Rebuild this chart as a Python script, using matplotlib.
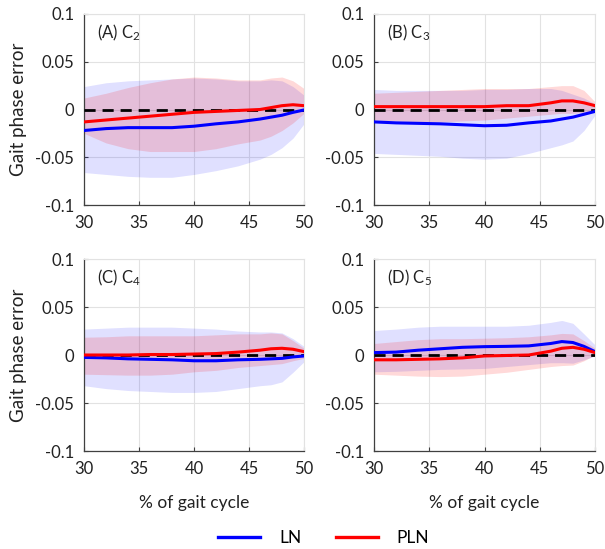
import matplotlib
matplotlib.use("Agg")
import matplotlib.pyplot as plt
from matplotlib.lines import Line2D

plt.rcParams['font.family'] = ['Lato', 'DejaVu Sans']
plt.rcParams['mathtext.default'] = 'regular'

x = [30, 32, 34, 36, 38, 40, 42, 44, 46, 47, 48, 49, 50]

# Panel A (C2)
a_ln_mean = [-0.022, -0.020, -0.019, -0.019, -0.019, -0.0175, -0.015, -0.013, -0.010, -0.008, -0.006, -0.003, -0.0005]
a_ln_up = [0.024, 0.028, 0.030, 0.031, 0.032, 0.033, 0.032, 0.030, 0.030, 0.031, 0.030, 0.024, 0.015]
a_ln_lo = [-0.066, -0.068, -0.070, -0.071, -0.071, -0.068, -0.064, -0.059, -0.052, -0.047, -0.040, -0.030, -0.015]
a_pln_mean = [-0.013, -0.011, -0.009, -0.007, -0.005, -0.003, -0.002, -0.001, 0.000, 0.002, 0.004, 0.005, 0.004]
a_pln_up = [0.012, 0.017, 0.023, 0.028, 0.032, 0.034, 0.033, 0.031, 0.031, 0.033, 0.034, 0.030, 0.022]
a_pln_lo = [-0.025, -0.035, -0.041, -0.044, -0.044, -0.044, -0.041, -0.036, -0.032, -0.028, -0.022, -0.014, -0.004]

# Panel B (C3)
b_ln_mean = [-0.013, -0.014, -0.0145, -0.015, -0.016, -0.017, -0.0165, -0.014, -0.012, -0.010, -0.008, -0.005, -0.002]
b_ln_up = [0.021, 0.020, 0.020, 0.020, 0.020, 0.021, 0.021, 0.022, 0.022, 0.020, 0.016, 0.012, 0.006]
b_ln_lo = [-0.046, -0.047, -0.048, -0.049, -0.051, -0.052, -0.051, -0.046, -0.040, -0.037, -0.033, -0.022, -0.006]
b_pln_mean = [0.003, 0.003, 0.003, 0.003, 0.003, 0.003, 0.004, 0.004, 0.007, 0.009, 0.009, 0.007, 0.004]
b_pln_up = [0.017, 0.018, 0.019, 0.020, 0.021, 0.022, 0.022, 0.022, 0.024, 0.025, 0.025, 0.020, 0.008]
b_pln_lo = [-0.011, -0.012, -0.013, -0.013, -0.012, -0.011, -0.009, -0.007, -0.005, -0.004, -0.004, -0.003, -0.001]

# Panel C (C4)
c_ln_mean = [-0.0025, -0.003, -0.004, -0.0045, -0.005, -0.006, -0.006, -0.005, -0.0045, -0.004, -0.0035, -0.002, -0.001]
c_ln_up = [0.027, 0.028, 0.029, 0.029, 0.029, 0.028, 0.027, 0.025, 0.024, 0.024, 0.023, 0.017, 0.009]
c_ln_lo = [-0.032, -0.035, -0.037, -0.038, -0.039, -0.039, -0.038, -0.035, -0.032, -0.031, -0.028, -0.018, -0.007]
c_pln_mean = [0.000, 0.000, 0.000, 0.0005, 0.0005, 0.001, 0.0015, 0.003, 0.005, 0.0065, 0.007, 0.006, 0.0035]
c_pln_up = [0.0185, 0.019, 0.020, 0.020, 0.020, 0.020, 0.021, 0.022, 0.022, 0.023, 0.022, 0.015, 0.007]
c_pln_lo = [-0.020, -0.0205, -0.021, -0.021, -0.020, -0.0175, -0.016, -0.013, -0.011, -0.010, -0.009, -0.006, -0.0035]

# Panel D (C5)
d_ln_mean = [0.0025, 0.003, 0.005, 0.0065, 0.008, 0.0087, 0.009, 0.0095, 0.012, 0.014, 0.013, 0.009, 0.0035]
d_ln_up = [0.0255, 0.027, 0.029, 0.030, 0.030, 0.030, 0.030, 0.031, 0.034, 0.036, 0.033, 0.022, 0.0105]
d_ln_lo = [-0.0175, -0.017, -0.016, -0.015, -0.0145, -0.014, -0.012, -0.010, -0.008, -0.008, -0.0085, -0.005, -0.001]
d_pln_mean = [-0.005, -0.005, -0.0045, -0.004, -0.003, -0.001, -0.0005, 0.000, 0.004, 0.007, 0.008, 0.006, 0.0025]
d_pln_up = [0.012, 0.014, 0.016, 0.017, 0.017, 0.0175, 0.018, 0.019, 0.021, 0.0225, 0.022, 0.015, 0.007]
d_pln_lo = [-0.020, -0.021, -0.022, -0.0225, -0.022, -0.020, -0.018, -0.015, -0.012, -0.011, -0.0105, -0.006, 0.000]

panel_labels = ['(A) C$_2$', '(B) C$_3$', '(C) C$_4$', '(D) C$_5$']
xticks = [30, 35, 40, 45, 50]
yticks = [-0.1, -0.05, 0, 0.05, 0.1]
ytick_labels = ['-0.1', '-0.05', '0', '0.05', '0.1']
series_names = ['LN', 'PLN']

panels = [
    (a_ln_mean, a_ln_up, a_ln_lo, a_pln_mean, a_pln_up, a_pln_lo),
    (b_ln_mean, b_ln_up, b_ln_lo, b_pln_mean, b_pln_up, b_pln_lo),
    (c_ln_mean, c_ln_up, c_ln_lo, c_pln_mean, c_pln_up, c_pln_lo),
    (d_ln_mean, d_ln_up, d_ln_lo, d_pln_mean, d_pln_up, d_pln_lo),
]

BLUE = '#0000ff'
RED = '#ff0000'

fig = plt.figure(figsize=(6.05, 5.49), dpi=100)
W, H = 605, 549
rects = [(84, 14, 304, 205), (374, 14, 595, 205), (84, 259, 304, 451), (374, 259, 595, 451)]

for i, (rect, data) in enumerate(zip(rects, panels)):
    l, t, r, b = rect
    ax = fig.add_axes([l / W, 1 - b / H, (r - l) / W, (b - t) / H])
    ln_m, ln_u, ln_l, pl_m, pl_u, pl_l = data
    ax.fill_between(x, ln_l, ln_u, color=BLUE, alpha=0.12, linewidth=0, zorder=1)
    ax.fill_between(x, pl_l, pl_u, color=RED, alpha=0.15, linewidth=0, zorder=1)
    ax.plot([30, 50], [0, 0], color='black', linestyle=(0, (4, 2.5)), linewidth=2.0, zorder=3)
    ax.plot(x, ln_m, color=BLUE, linewidth=2.2, zorder=4)
    ax.plot(x, pl_m, color=RED, linewidth=2.2, zorder=4)
    ax.set_xlim(30, 50)
    ax.set_ylim(-0.1, 0.1)
    ax.set_xticks(xticks)
    ax.set_yticks(yticks)
    ax.set_yticklabels(ytick_labels)
    ax.grid(True, color='#e2e2e2', linewidth=0.8, zorder=0)
    ax.set_axisbelow(True)
    for s in ['top', 'right']:
        ax.spines[s].set_color('#e2e2e2')
        ax.spines[s].set_linewidth(0.8)
    for s in ['left', 'bottom']:
        ax.spines[s].set_color('#404040')
        ax.spines[s].set_linewidth(0.9)
    ax.tick_params(direction='in', length=3, width=0.8, color='#404040',
                   labelsize=12, labelcolor='#222222', pad=7)
    ax.text(0.06, 0.9, panel_labels[i], transform=ax.transAxes, fontsize=12,
            color='#222222', va='center', ha='left')
    if i % 2 == 0:
        ax.set_ylabel('Gait phase error', fontsize=13.5, color='#222222', labelpad=6)
    if i >= 2:
        ax.set_xlabel('% of gait cycle', fontsize=12.5, color='#222222', labelpad=13)

handles = [Line2D([0], [0], color=BLUE, linewidth=2.4), Line2D([0], [0], color=RED, linewidth=2.4)]
fig.legend(handles, series_names, loc='center', bbox_to_anchor=(0.535, 1 - 538 / H), ncol=2,
           frameon=False, fontsize=12.5, handlelength=2.4, handletextpad=1.1, columnspacing=2.0)

fig.savefig('out.png', dpi=100)
